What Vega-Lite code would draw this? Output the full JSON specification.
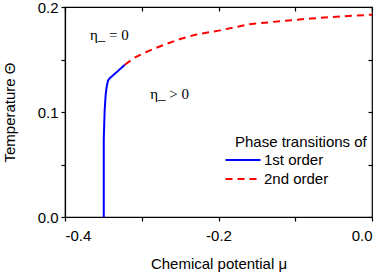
{
  "$schema": "https://vega.github.io/schema/vega-lite/v6.json",
  "width": 307,
  "height": 210,
  "autosize": {"type": "none"},
  "padding": {"left": 65, "top": 7, "right": 12, "bottom": 56},
  "background": "white",
  "config": {
    "view": {"stroke": "black", "strokeWidth": 1.2},
    "font": "Liberation Sans",
    "axis": {"grid": false, "domainColor": "black", "tickColor": "black", "labelColor": "black", "titleColor": "black", "labelFont": "Liberation Sans", "titleFont": "Liberation Sans", "labelFontSize": 15, "titleFontSize": 15, "titleFontWeight": "normal", "tickSize": 4, "domainWidth": 1.2, "tickWidth": 1.2}
  },
  "resolve": {"scale": {"x": "independent", "y": "independent"}},
  "datasets": {
    "curves": [
      {"mu": -0.3495, "T": 0.000, "order": "1st order"},
      {"mu": -0.3495, "T": 0.074, "order": "1st order"},
      {"mu": -0.3483, "T": 0.102, "order": "1st order"},
      {"mu": -0.347, "T": 0.1165, "order": "1st order"},
      {"mu": -0.3457, "T": 0.124, "order": "1st order"},
      {"mu": -0.344, "T": 0.130, "order": "1st order"},
      {"mu": -0.3414, "T": 0.1324, "order": "1st order"},
      {"mu": -0.332, "T": 0.1384, "order": "1st order"},
      {"mu": -0.322, "T": 0.145, "order": "1st order"},
      {"mu": -0.322, "T": 0.145, "order": "2nd order"},
      {"mu": -0.310, "T": 0.1515, "order": "2nd order"},
      {"mu": -0.290, "T": 0.1585, "order": "2nd order"},
      {"mu": -0.270, "T": 0.1643, "order": "2nd order"},
      {"mu": -0.250, "T": 0.1695, "order": "2nd order"},
      {"mu": -0.230, "T": 0.1736, "order": "2nd order"},
      {"mu": -0.200, "T": 0.1775, "order": "2nd order"},
      {"mu": -0.160, "T": 0.1835, "order": "2nd order"},
      {"mu": -0.120, "T": 0.1865, "order": "2nd order"},
      {"mu": -0.080, "T": 0.1890, "order": "2nd order"},
      {"mu": -0.040, "T": 0.1910, "order": "2nd order"},
      {"mu": 0.000, "T": 0.1927, "order": "2nd order"}
    ],
    "labels": [
      {"mu": -0.3674, "T": 0.1736, "txt": "η_ = 0"},
      {"mu": -0.289, "T": 0.117, "txt": "η_ > 0"}
    ]
  },
  "layer": [
    {
      "data": {"name": "curves"},
      "mark": {"type": "line", "strokeWidth": 2},
      "encoding": {
        "x": {"field": "mu", "type": "quantitative", "scale": {"domain": [-0.4, 0], "nice": false, "zero": false},
              "axis": {"title": "Chemical potential μ", "values": [-0.4, -0.3, -0.2, -0.1, 0], "labelExpr": "abs(round(datum.value*10)) % 2 == 0 ? replace(format(datum.value, '.1f'), '−', '-') : ''", "labelPadding": 7, "titlePadding": 13}},
        "y": {"field": "T", "type": "quantitative", "scale": {"domain": [0, 0.2], "nice": false},
              "axis": {"title": "Temperature Θ", "values": [0, 0.05, 0.1, 0.15, 0.2], "labelExpr": "round(datum.value*100) % 10 == 0 ? format(datum.value, '.1f') : ''", "labelPadding": 3, "titlePadding": 20}},
        "color": {"field": "order", "type": "nominal", "scale": {"domain": ["1st order", "2nd order"], "range": ["#0000ff", "#ff0000"]},
                  "legend": {"title": "Phase transitions of", "orient": "none", "legendX": 170, "legendY": 128, "titleFont": "Liberation Sans", "titleFontSize": 15, "titleFontWeight": "normal", "titleColor": "black", "labelFont": "Liberation Sans", "labelFontSize": 15, "labelColor": "black", "symbolType": "M-2.5,0H2.5", "symbolSize": 196, "symbolStrokeWidth": 2, "labelOffset": 13, "rowPadding": 3, "titlePadding": 2}},
        "strokeDash": {"field": "order", "type": "nominal", "scale": {"domain": ["1st order", "2nd order"], "range": [[1, 0], [7, 5]]},
                  "legend": {"title": "Phase transitions of"}}
      }
    },
    {
      "data": {"name": "labels"},
      "mark": {"type": "text", "font": "Liberation Serif", "fontSize": 15, "align": "left", "baseline": "middle", "color": "black"},
      "encoding": {
        "x": {"field": "mu", "type": "quantitative", "scale": {"domain": [-0.4, 0], "nice": false, "zero": false},
              "axis": {"orient": "top", "title": null, "labels": false, "domain": false, "tickSize": 4, "offset": -4, "values": [-0.4, -0.3, -0.2, -0.1, 0]}},
        "y": {"field": "T", "type": "quantitative", "scale": {"domain": [0, 0.2], "nice": false},
              "axis": {"orient": "right", "title": null, "labels": false, "domain": false, "tickSize": 4, "offset": -4, "values": [0, 0.05, 0.1, 0.15, 0.2]}},
        "text": {"field": "txt"}
      }
    }
  ]
}
